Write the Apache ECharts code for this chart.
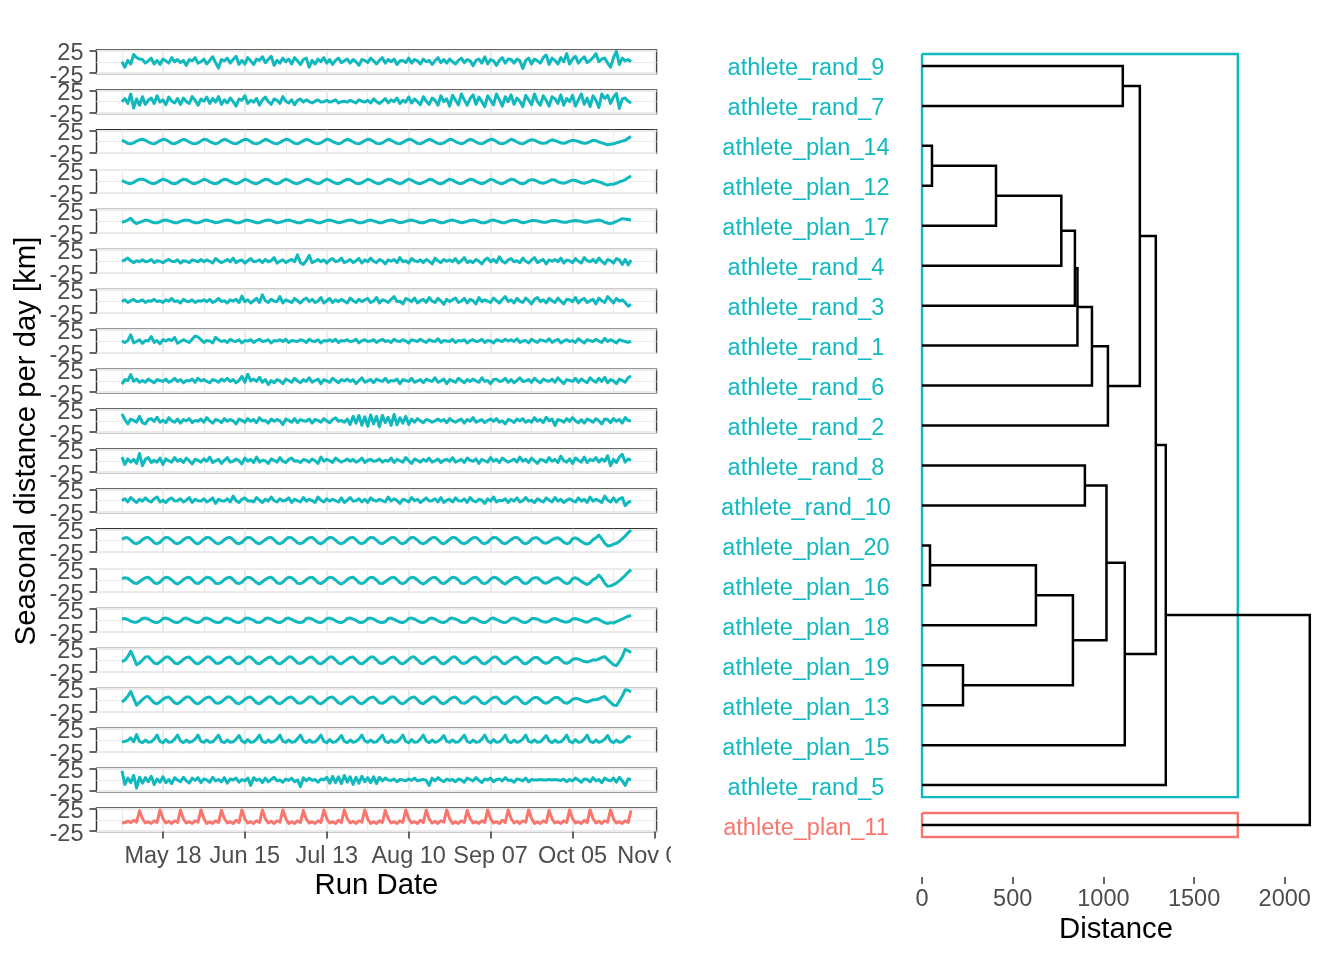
<!DOCTYPE html>
<html><head><meta charset="utf-8">
<script src="https://cdn.jsdelivr.net/npm/echarts@6/dist/echarts.min.js"></script>
<style>html,body{margin:0;padding:0;background:#fff}#c{width:1344px;height:960px}</style>
</head><body><div id="c"></div>
<script>
// ---------------- DATA ----------------
const athletes = ['athlete_rand_9','athlete_rand_7','athlete_plan_14','athlete_plan_12','athlete_plan_17',
  'athlete_rand_4','athlete_rand_3','athlete_rand_1','athlete_rand_6','athlete_rand_2','athlete_rand_8',
  'athlete_rand_10','athlete_plan_20','athlete_plan_16','athlete_plan_18','athlete_plan_19','athlete_plan_13',
  'athlete_plan_15','athlete_rand_5','athlete_plan_11'];
const clusterOf = [1,1,1,1,1,1,1,1,1,1,1,1,1,1,1,1,1,1,1,2];
// day 0 = 2019-05-04 ; one value per day until 2019-10-25 (day 174)
const dateTickDays = [14,42,70,98,126,154,182];
const dateTickLabels = ['May 18','Jun 15','Jul 13','Aug 10','Sep 07','Oct 05','Nov 02'];
const minorGridDays = [0,28,56,84,112,140,168];
const yTicks = [-25,25];
const yMinorGrid = [0];
const distTicks = [0,500,1000,1500,2000];

const rand_9 = [0,-12,3,-5,16,9,6, 5,-3,2,8,-5,3,-6, 6,2,-3,9,0,5,-2, 3,-8,5,2,9,-3,0, 6,-5,3,11,-2,-14,5,
 2,8,-3,5,12,-6,3, -5,9,2,-6,6,3,11, -2,5,12,-8,3,-3,8, 0,6,-5,9,2,-6,5, 8,-12,3,-5,6,0,9,
 -3,5,-6,3,8,-2,2, 6,-3,5,0,-8,5,3, -2,8,2,-5,3,9,-3, 5,0,6,-6,2,3,-2, 8,-3,5,2,-5,6,0,
 3,-6,2,9,-2,5,-3, 6,0,-5,3,8,-2,5, 2,-9,3,6,-3,11,-5, 5,2,-8,3,9,-3,6, 5,-3,6,2,-15,3,8,
 -5,6,2,-3,9,15,-6, 8,3,-5,9,0,18,-5, 6,12,-3,5,11,-2,3, 9,18,0,6,8,-3,-12, 9,23,-6,8,2,5,0];
const rand_7 = [0,7,-4,17,-14,6,-8, 11,-6,3,8,-4,13,-1, 4,-7,10,1,-3,7,-6, 8,0,-4,11,3,-8,6, 1,10,-4,7,-1,11,-6,
 4,-3,8,0,-10,6,3, 13,-4,3,-1,7,-8,4, 10,0,-6,6,3,-4,11, 1,-3,4,-7,3,6,-1, 4,0,-3,1,4,-1,0,
 3,-1,1,4,-3,0,1, -1,3,0,-3,4,1,-1, 3,-3,6,0,-4,1,7, -3,4,0,8,-4,3,-1, 10,-3,6,0,-7,11,1,
 -6,8,3,-8,13,0,6, -10,14,3,-7,17,4,-8, 7,15,-6,10,0,-11,13, 3,-7,17,4,-10,11,0, 15,-6,8,1,-11,14,4,
 -7,17,0,-8,13,3,-10, 11,6,-4,15,-8,7,0, 14,-10,4,17,-6,8,-11, 13,3,-13,17,7,14,-4, 10,18,-15,6,8,1,-3];
const plan_14 = [3,0,-4,-5,-3,1,4, 5,3,-1,-4,-5,-2,2, 5,4,0,-4,-5,-2,2, 5,3,-1,-4,-5,-3,1, 5,4,0,-3,-5,-3,2,
 5,3,-1,-4,-5,-2,2, 5,4,0,-4,-5,-3,1, 5,3,-1,-4,-5,-2,2, 5,4,0,-4,-5,-2,2, 5,3,-1,-4,-5,-3,1,
 5,4,0,-3,-5,-3,2, 5,3,-1,-4,-5,-2,2, 5,4,0,-4,-5,-3,1, 5,3,-1,-4,-5,-2,2, 5,4,0,-4,-5,-2,2,
 5,3,-1,-4,-5,-3,1, 5,4,0,-3,-5,-3,2, 5,3,-1,-4,-5,-2,2, 5,4,0,-4,-5,-3,1, 5,3,-1,-4,-5,-2,2,
 4,3,0,-3,-4,-3,1, 4,2,0,-3,-4,-2,1, 3,2,0,-2,-4,-3,0, 3,2,-1,-3,-5,-7,-6, -5,-3,-1,1,3,7,11];
const plan_12 = [2,-1,-4,-5,-2,2,5, 5,3,-1,-4,-5,-2,2, 5,3,0,-4,-5,-3,2, 5,4,0,-4,-5,-2,1, 5,3,-1,-4,-5,-3,2,
 5,4,0,-3,-5,-3,1, 5,3,-1,-4,-5,-2,2, 5,4,0,-4,-5,-3,2, 5,3,-1,-4,-5,-2,1, 5,4,0,-3,-5,-3,2,
 5,3,-1,-4,-5,-2,2, 5,4,0,-4,-5,-3,1, 5,3,-1,-4,-5,-2,2, 5,4,0,-3,-5,-3,2, 5,3,-1,-4,-5,-2,1,
 5,4,0,-4,-5,-3,2, 5,3,-1,-4,-5,-2,2, 5,4,0,-3,-5,-3,1, 5,3,-1,-4,-5,-2,2, 5,4,0,-4,-5,-3,2,
 4,3,0,-3,-4,-2,1, 4,3,-1,-3,-4,-2,1, 3,2,0,-3,-4,-2,0, 3,1,-1,-3,-6,-8,-6, -6,-4,-1,1,4,8,12];
const plan_17 = [-2,0,3,7,-1,-5,-2, 0,3,2,-1,-3,-3,-1, 2,3,1,-1,-3,-3,0, 2,3,2,-1,-3,-3,-1, 2,3,1,-1,-3,-2,0,
 2,3,2,-1,-3,-3,-1, 2,3,1,-1,-3,-3,0, 2,3,2,-1,-3,-2,0, 2,3,1,-1,-3,-3,-1, 2,3,2,-1,-3,-3,0,
 2,3,1,-1,-3,-2,0, 2,3,2,-1,-3,-3,-1, 2,3,1,-1,-3,-3,0, 2,3,2,-1,-3,-2,0, 2,3,1,-1,-3,-3,-1,
 2,3,2,-1,-3,-3,0, 2,3,1,-1,-3,-2,0, 2,3,2,-1,-3,-3,-1, 2,3,1,-1,-3,-3,0, 2,3,2,-1,-3,-2,0,
 2,2,1,-1,-2,-2,0, 2,2,1,-1,-2,-2,0, 1,2,1,0,-2,-2,0, 1,2,3,1,-2,-4,-5, -3,0,3,6,5,4,3];
const rand_4 = [0,3,7,1,-3,1,-1, 3,-1,0,4,-3,1,0, -3,1,4,0,-1,3,-4, 1,0,-3,3,1,-1,4, -1,3,0,-4,6,1,-3,
 0,4,-1,7,-3,1,3, -4,1,6,-1,0,3,-3, 4,-1,1,8,-4,0,3, -3,1,4,-1,14,-3,-7, 1,13,-3,0,4,-1,3,
 -4,3,6,-1,1,7,-3, 0,4,-3,1,6,-4,3, -1,7,0,-3,4,1,-6, 3,0,4,-3,8,-1,1, -4,6,1,-1,3,-3,4,
 0,-6,7,1,-3,4,0, 3,-1,6,-4,1,8,-3, 1,-3,4,0,-6,3,7, -1,4,-3,10,0,-4,3, 6,-1,1,-3,7,0,-4,
 3,8,-3,1,4,-6,3, 0,4,-1,7,-4,3,1, -3,6,0,-4,8,1,-1, 4,-3,7,0,-6,4,1, -4,6,3,-7,4,-8,3];
const rand_3 = [-1,3,-3,1,4,-1,0, 3,-3,1,0,4,-1,1, -3,3,0,6,-1,1,-4, 4,0,-1,3,-3,1,0, 3,-1,4,-3,0,6,-1,
 1,-4,3,0,4,-3,11, -1,3,-4,1,6,-3,14, 1,-3,4,0,-1,10,-4, 3,0,-3,6,1,-4,3, 7,-1,4,-3,0,8,-4,
 1,6,-3,3,-1,4,0, -4,7,1,-3,4,-1,3, 6,-3,0,8,-4,3,1, -3,4,10,-1,0,-6,6, 3,-1,7,-4,1,4,-3,
 8,0,-3,6,1,-7,4, -1,3,7,-3,0,6,-4, 4,1,-6,8,-1,3,0, -3,7,1,-4,4,10,-1, 3,-4,6,0,-3,7,1,
 -6,4,8,-1,3,-4,6, 1,-3,7,0,-6,4,3, -1,8,-4,3,6,-3,1, 4,-6,7,1,-3,10,3, -4,6,0,3,-3,-11,-7];
const rand_1 = [0,-3,1,14,-4,-1,3, -5,1,0,10,-3,1,-6, 3,0,4,1,8,-5,-1, 3,0,-3,4,11,9,3, -3,1,0,-4,8,3,-1,
 1,-3,4,0,-1,3,-4, 1,0,3,-3,1,4,-1, 0,3,-4,1,0,3,-1, 4,-3,1,0,-1,3,1, -3,4,0,-1,3,-4,1,
 0,3,-1,4,-3,1,0, 3,-1,0,4,-4,1,3, -1,0,3,-3,1,4,-1, 1,-3,4,0,-1,3,0, -4,3,1,-1,4,0,-3,
 3,0,-1,5,-3,1,0, -1,4,-3,1,0,3,-4, 1,3,-1,0,4,-3,1, 0,-4,3,1,-1,4,0, 3,-1,5,-3,0,1,-4,
 4,0,-3,3,1,-1,5, -3,1,4,-4,0,3,-1, 1,-3,5,0,-4,3,1, -1,4,0,-3,6,-1,3, 0,-4,3,1,-1,-3,0];
const rand_6 = [-7,3,1,14,-1,4,-3, 1,-3,4,0,-4,3,1, -1,4,-3,0,6,-1,3, -4,1,0,4,-3,6,0, 3,-1,-4,3,1,-3,4,
 0,6,-1,3,-4,1,10, -3,15,0,4,-1,8,-3, 3,-8,1,-4,3,0,-6, 4,1,-3,6,0,-4,3, -1,7,-3,1,4,-6,3,
 0,-3,6,1,-4,3,0, 4,-1,3,-6,1,7,-3, 0,3,-4,4,1,-1,6, -3,1,0,4,-6,3,1, -1,6,-3,0,3,-4,4,
 1,-1,7,-3,0,4,-6, 3,0,-3,6,1,-4,3, -1,4,0,-3,7,-1,1, -6,3,4,-1,0,6,-3, 3,-4,1,7,-1,0,3,
 -3,6,0,-4,4,1,-1, 4,-3,7,0,-6,3,1, -1,6,-3,4,0,-4,7, 1,-3,6,-1,8,-4,3, 0,-6,4,1,-3,7,11];
const rand_2 = [15,3,-7,4,1,-3,10, -4,-7,3,5,-1,8,-3, 1,-4,7,0,-3,4,-5, 3,0,5,-4,1,-1,4, -3,7,0,-5,3,1,-4,
 5,-1,3,0,-7,4,1, -3,5,-1,3,-4,7,0, 1,-5,4,-1,3,0,-8, 4,1,-3,5,-4,3,0, -1,4,-5,3,1,-3,5,
 0,-4,3,7,-1,1,-3, 4,-8,10,-5,12,-10,9, -12,13,-7,10,-13,12,-4, 8,-10,14,-9,7,-5,10, -8,4,-3,5,0,-4,3,
 1,-3,0,4,-1,3,-4, 5,0,-3,1,4,-5,3, -1,7,-3,0,3,-4,1, 4,-1,5,-3,0,-7,3, 1,-4,4,0,5,-3,1,
 -3,7,-1,3,-4,8,0, 4,-10,3,1,-3,5,-1, 7,0,-4,3,-5,4,1, -3,5,0,-7,4,3,-4, 5,-1,3,-5,7,1,0];
const rand_8 = [8,-8,4,-3,3,-6,16, -11,3,7,-4,1,-3,6, -8,4,0,-3,7,-1,3, -4,6,0,-7,3,1,-3, 4,-1,8,-4,0,3,-6,
 1,7,-3,-1,4,0,-7, 6,-1,3,-4,8,-3,1, 0,-6,4,1,-3,7,-1, -4,3,6,-1,0,-4,3, 1,-3,4,0,-6,8,-1,
 3,0,-4,6,1,-3,0, 4,-1,3,-3,0,6,-4, 1,3,-1,0,4,-3,1, -1,6,-4,3,0,-3,7, 0,-6,4,1,-3,3,-1,
 6,-3,0,4,-4,1,3, -1,7,-3,0,3,-4,6, 1,-1,4,-6,3,0,-3, 7,-1,3,-4,6,1,-3, 0,4,-3,8,-1,3,-4,
 6,0,-6,3,1,-3,7, -1,3,-4,10,0,-3,4, -6,6,1,-3,8,-4,3, 0,7,-3,4,-1,11,-11, 3,-4,8,14,-3,4,1];
const rand_10 = [0,4,-3,7,1,-4,3, -1,6,0,-3,4,8,-3, 1,-4,3,6,-1,0,4, -3,1,7,-4,3,0,-1, 4,-3,1,6,-6,3,0,
 -1,4,-3,10,0,-4,3, 6,-1,0,-3,7,1,-4, 3,-1,8,0,-3,4,-1, 1,6,-4,3,0,-3,7, -1,3,0,-4,8,1,-3,
 4,-1,3,0,-3,6,-4, 1,7,-1,0,4,-3,3, -4,6,1,-1,3,0,-3, 8,-1,4,0,-6,3,1, -3,7,0,3,-4,1,6,
 -1,0,4,-3,7,-4,1, 3,-3,6,0,-1,4,-4, 7,0,-3,3,1,-6,4, -1,8,-3,1,0,4,-4, 3,-1,6,-3,0,7,-1,
 1,-4,4,0,-3,6,1, -3,7,-1,3,-4,1,4, 0,-3,6,-1,3,-4,8, -1,3,0,-4,10,1,-3, 6,-3,4,7,-11,-4,-1];
const plan_20 = [3,6,6,1,-5,-7,-4, 2,6,7,2,-5,-7,-4, 3,7,6,1,-5,-7,-4, 2,6,7,2,-5,-7,-3, 3,7,6,1,-5,-7,-4,
 2,6,7,2,-5,-7,-4, 3,7,6,1,-5,-7,-3, 2,6,7,2,-5,-7,-4, 3,7,6,1,-5,-7,-4, 2,6,7,2,-5,-7,-3,
 3,7,6,1,-5,-7,-4, 2,6,7,2,-5,-7,-4, 3,7,6,1,-5,-7,-3, 2,6,7,2,-5,-7,-4, 3,7,6,1,-5,-7,-4,
 2,6,7,2,-5,-7,-3, 3,7,6,1,-5,-7,-4, 2,6,7,2,-5,-7,-4, 3,7,6,1,-5,-7,-3, 2,6,7,2,-5,-7,-4,
 3,6,6,1,-5,-6,-3, 2,5,6,2,-4,-7,-5, 4,6,3,-2,-6,-8,-5, 2,6,12,4,-6,-12,-11, -8,-6,-2,4,10,17,23];
const plan_16 = [4,6,5,0,-5,-7,-3, 2,6,7,2,-5,-7,-4, 3,7,6,1,-5,-8,-4, 2,6,7,2,-5,-7,-3, 3,7,6,1,-6,-7,-4,
 2,6,7,2,-5,-7,-4, 3,7,6,1,-5,-8,-3, 2,6,7,2,-5,-7,-4, 3,7,6,1,-6,-7,-4, 2,6,7,2,-5,-7,-3,
 3,7,6,1,-5,-8,-4, 2,6,7,2,-5,-7,-4, 3,7,6,1,-6,-7,-3, 2,6,7,2,-5,-7,-4, 3,7,6,1,-5,-8,-4,
 2,6,7,2,-5,-7,-3, 3,7,6,1,-6,-7,-4, 2,6,7,2,-5,-7,-4, 3,7,6,1,-5,-8,-3, 2,6,7,2,-5,-7,-4,
 3,6,6,1,-5,-6,-3, 2,5,6,2,-4,-7,-5, 4,6,3,-2,-6,-9,-5, 2,5,12,5,-6,-13,-12, -9,-6,-1,5,11,18,24];
const plan_18 = [3,4,2,-2,-4,-4,-1, 4,5,3,-1,-4,-5,-2, 4,5,3,-1,-4,-5,-2, 4,5,2,-1,-4,-5,-2, 4,5,3,-1,-4,-5,-3,
 4,5,3,-1,-4,-5,-2, 4,5,3,0,-4,-5,-2, 4,5,3,-1,-4,-5,-2, 4,5,2,-1,-4,-5,-3, 4,5,3,-1,-4,-5,-2,
 4,5,3,-1,-4,-5,-2, 4,5,3,0,-4,-5,-2, 4,5,3,-1,-4,-5,-3, 4,5,2,-1,-4,-5,-2, 4,5,3,-1,-4,-5,-2,
 4,5,3,-1,-4,-5,-2, 4,5,3,0,-4,-5,-3, 4,5,3,-1,-4,-5,-2, 4,5,2,-1,-4,-5,-2, 4,5,3,-1,-4,-5,-2,
 4,4,3,-1,-3,-4,-2, 3,4,2,-1,-3,-4,-2, 3,4,2,0,-3,-4,-1, 3,4,2,-2,-5,-7,-5, -6,-3,0,3,6,9,11];
const plan_19 = [-3,0,8,20,6,-10,-6, 0,7,8,1,-6,-8,-4, 2,7,7,1,-6,-8,-4, 2,6,7,1,-6,-8,-4, 2,7,7,1,-6,-7,-4,
 2,6,7,1,-6,-8,-4, 2,7,7,1,-6,-8,-3, 2,6,7,1,-6,-8,-4, 2,7,7,1,-6,-7,-4, 2,6,7,1,-6,-8,-4,
 2,7,7,1,-6,-8,-3, 2,6,7,1,-6,-8,-4, 2,7,7,1,-6,-7,-4, 2,6,7,1,-6,-8,-4, 2,7,7,1,-6,-8,-3,
 2,6,7,1,-6,-8,-4, 2,7,7,1,-6,-7,-4, 2,6,7,1,-6,-8,-4, 2,7,7,1,-6,-8,-3, 2,6,7,1,-6,-8,-4,
 2,6,6,1,-5,-7,-4, 2,6,6,1,-5,-7,-4, 2,4,3,0,-3,-4,-2, 1,0,3,6,8,2,-4, -10,-12,-3,8,24,21,17];
const plan_13 = [-4,1,9,19,4,-11,-5, 1,7,8,1,-6,-8,-4, 2,6,7,1,-6,-8,-4, 2,7,7,1,-6,-8,-4, 2,6,7,1,-6,-7,-4,
 2,7,7,1,-6,-8,-4, 2,6,7,1,-6,-8,-3, 2,7,7,1,-6,-8,-4, 2,6,7,1,-6,-7,-4, 2,7,7,1,-6,-8,-4,
 2,6,7,1,-6,-8,-3, 2,7,7,1,-6,-8,-4, 2,6,7,1,-6,-7,-4, 2,7,7,1,-6,-8,-4, 2,6,7,1,-6,-8,-3,
 2,7,7,1,-6,-8,-4, 2,6,7,1,-6,-7,-4, 2,7,7,1,-6,-8,-4, 2,6,7,1,-6,-8,-3, 2,7,7,1,-6,-8,-4,
 2,6,6,1,-5,-7,-4, 2,6,6,1,-5,-7,-4, 2,4,3,0,-3,-4,-2, 1,1,3,6,8,1,-5, -11,-12,-2,9,23,22,18];
const plan_15 = [-4,-3,-1,5,-4,12,-3, -6,0,-5,-4,2,11,-3, -6,1,-5,-4,2,11,-2, -6,0,-5,-3,2,11,-3, -5,0,-5,-4,3,11,-3,
 -6,0,-5,-4,2,10,-2, -6,1,-5,-4,2,11,-3, -6,0,-5,-3,2,11,-3, -5,0,-5,-4,3,11,-2, -6,0,-5,-4,2,11,-3,
 -6,1,-5,-4,2,10,-3, -6,0,-5,-3,2,11,-2, -5,0,-5,-4,3,11,-3, -6,0,-5,-4,2,11,-3, -6,1,-5,-4,2,11,-2,
 -6,0,-5,-3,2,10,-3, -5,0,-5,-4,3,11,-3, -6,0,-5,-4,2,11,-2, -6,1,-5,-4,2,11,-3, -6,0,-5,-3,2,11,-3,
 -5,0,-5,-4,3,10,-2, -6,0,-5,-4,2,11,-3, -6,1,-5,-4,2,11,-3, -6,0,-5,-3,2,10,-2, -6,0,-5,-4,2,8,6];
const rand_5 = [20,-10,4,-6,10,-18,6, -7,5,-4,8,-10,2,-5, 7,-6,1,-8,5,0,-4, 6,-2,-7,4,-1,5,-6, 2,0,-5,6,-2,1,-4,
 5,-7,2,0,4,-5,1, -2,4,-12,5,-1,2,-6, 4,-4,1,6,-2,0,-5, 2,-1,4,-4,0,-15,5, -2,4,-1,1,-5,2,0,
 6,-7,8,-6,7,-8,10, -5,7,-10,6,-7,8,-4, 5,-6,7,-8,6,-2,4, 0,-1,2,-4,1,0,-2, 2,-1,4,-2,0,1,-1,
 -12,4,-2,5,0,-4,2, -1,1,-4,2,0,-5,4, 1,-2,5,-1,-6,2,0, 4,-4,1,2,-2,5,-1, 0,-5,2,1,-2,4,-4,
 1,0,0,1,0,0,1, 0,1,0,-1,2,-4,1, -2,4,0,-5,2,1,-4, 5,-2,1,-6,4,0,-2, 4,-5,6,-2,-12,2,1];
const plan_11 = [-7,-6,-3,-6,-1,-5,20, 3,-7,-4,-8,-2,-6,22, 3,-7,-3,-8,-2,-6,22, 2,-7,-4,-8,-2,-5,22, 3,-8,-4,-8,-2,-6,21,
 3,-7,-4,-8,-1,-6,22, 2,-7,-4,-8,-2,-6,22, 3,-7,-3,-8,-2,-5,22, 3,-8,-4,-8,-2,-6,21, 2,-7,-4,-8,-2,-6,22,
 3,-7,-4,-8,-1,-6,22, 3,-7,-3,-8,-2,-5,22, 2,-8,-4,-8,-2,-6,21, 3,-7,-4,-8,-2,-6,22, 3,-7,-4,-8,-1,-6,22,
 2,-7,-3,-8,-2,-5,22, 3,-8,-4,-8,-2,-6,21, 3,-7,-4,-8,-2,-6,22, 2,-7,-4,-8,-1,-6,22, 3,-7,-3,-8,-2,-5,22,
 3,-8,-4,-8,-2,-6,21, 2,-7,-4,-8,-2,-6,22, 3,-7,-4,-8,-1,-6,22, 3,-7,-3,-8,-2,-5,22, 2,-7,-4,-8,-2,-6,21];

const seasonalSeries = [rand_9, rand_7, plan_14, plan_12, plan_17, rand_4, rand_3, rand_1, rand_6, rand_2,
  rand_8, rand_10, plan_20, plan_16, plan_18, plan_19, plan_13, plan_15, rand_5, plan_11];

// hierarchical clustering merges (negative = leaf position, positive = merge row), height
const merges = [
  [-13,-14,44],[-3,-4,55],[-16,-17,226],[2,-5,408],[1,-15,628],[4,-6,768],[5,3,832],
  [6,-7,843],[8,-8,857],[-11,-12,898],[9,-9,937],[10,7,1017],[11,-10,1025],[-1,-2,1107],
  [12,-18,1118],[14,13,1201],[16,15,1289],[17,-19,1344],[18,-20,2138]];
const cutHeight = 1741;

// ---------------- STYLE / LAYOUT ----------------
const FONT = '"Liberation Sans", Arial, Helvetica, sans-serif';
const COLORS = {1:'#10B9BE', 2:'#F8766D'};
const P_LEFT = 96.5, P_W = 560, P_TOP = 50, P_STEP = 39.9, P_H = 23.5;
const GRIDC = '#EBEBEB', TICKC = '#333333', LABC = '#4D4D4D';
const TXT = 23.5, TITLE = 29.3;
const Y_MIN = -26, Y_MAX = 26, X_MIN = -8.7, X_MAX = 182.7;

const grids = [], xAxes = [], yAxes = [], series = [];
athletes.forEach((name, i) => {
  const top = P_TOP + i * P_STEP;
  const last = i === athletes.length - 1;
  const gi = grids.length;
  grids.push({left:P_LEFT, top:top, width:P_W, height:P_H, show:true, borderColor:TICKC, borderWidth:1.5,
    backgroundColor:'rgba(0,0,0,0)', outerBoundsMode:'none', containLabel:false});
  const xMain = xAxes.length;
  xAxes.push({type:'value', gridIndex:gi, min:X_MIN, max:X_MAX, position:'bottom',
    axisLine:{show:false, onZero:false},
    axisTick:{show:last, customValues:dateTickDays, length:7, lineStyle:{color:TICKC, width:1.5}},
    axisLabel:{show:last, customValues:dateTickDays, margin:13, fontSize:TXT, color:LABC, fontFamily:FONT,
      hideOverlap:false,
      formatter:v => dateTickLabels[dateTickDays.indexOf(v)]},
    splitLine:{show:true, lineStyle:{color:GRIDC, width:2.2}}});
  xAxes.push({type:'value', gridIndex:gi, min:X_MIN, max:X_MAX, position:'bottom',
    axisLine:{show:false, onZero:false}, axisTick:{show:false, customValues:minorGridDays},
    axisLabel:{show:false, customValues:minorGridDays},
    splitLine:{show:true, lineStyle:{color:GRIDC, width:1.1}}});
  // one axis per y tick value so that no label gets dropped
  let yMain = -1;
  yTicks.forEach(t => {
    if (yMain < 0) yMain = yAxes.length;
    yAxes.push({type:'value', gridIndex:gi, min:Y_MIN, max:Y_MAX, position:'left',
      axisLine:{show:false, onZero:false},
      axisTick:{show:true, customValues:[t], length:7, lineStyle:{color:TICKC, width:1.5}},
      axisLabel:{show:true, customValues:[t], margin:13, fontSize:TXT, color:LABC, fontFamily:FONT,
        hideOverlap:false, lineHeight:14,
        formatter:v => '{t|' + v + '}',
        rich:{t:{fontSize:TXT, fontFamily:FONT, color:LABC, lineHeight:14, padding:[6,0,0,0]}}},
      splitLine:{show:true, lineStyle:{color:GRIDC, width:2.2}}});
  });
  yAxes.push({type:'value', gridIndex:gi, min:Y_MIN, max:Y_MAX, position:'left',
    axisLine:{show:false, onZero:false}, axisTick:{show:false, customValues:yMinorGrid},
    axisLabel:{show:false, customValues:yMinorGrid},
    splitLine:{show:true, lineStyle:{color:GRIDC, width:1.1}}});
  series.push({type:'line', name:name, xAxisIndex:xMain, yAxisIndex:yMain,
    data: seasonalSeries[i].map((v, d) => [d, v]),
    symbol:'none', showSymbol:false, silent:true, z:5,
    lineStyle:{width:3, color:COLORS[clusterOf[i]], join:'round'}});
});

// dendrogram grid
const DG = grids.length;
grids.push({left:902.6, top:14, width:426.6, height:863, show:false, outerBoundsMode:'none', containLabel:false});
const DX = xAxes.length;
xAxes.push({type:'value', gridIndex:DG, min:-107, max:2245, position:'bottom',
  axisLine:{show:false, onZero:false},
  axisTick:{show:true, customValues:distTicks, length:7, lineStyle:{color:TICKC, width:1.5}},
  axisLabel:{show:true, customValues:distTicks, margin:11, fontSize:TXT, color:LABC, fontFamily:FONT,
    hideOverlap:false, formatter:v => String(v)},
  splitLine:{show:false}});
const leafPos = athletes.map((_, k) => k + 1);
const rich = {};
Object.keys(COLORS).forEach(c => { rich['c' + c] = {color:COLORS[c], fontSize:TXT, fontFamily:FONT, padding:[6,0,0,0]}; });
const DY = yAxes.length;
yAxes.push({type:'value', gridIndex:DG, min:-0.3, max:21.3, inverse:true, position:'left',
  axisLine:{show:false, onZero:false}, axisTick:{show:false, customValues:leafPos},
  axisLabel:{show:true, customValues:leafPos, margin:96.6, align:'center', fontSize:TXT, fontFamily:FONT,
    hideOverlap:false, formatter:v => '{c' + clusterOf[v-1] + '|' + athletes[v-1] + '}', rich:rich},
  splitLine:{show:false}});

// cluster boxes
const BOX_PAD = 0.3;
const boxes = [];
Object.keys(COLORS).forEach(c => {
  const idx = leafPos.filter((p, k) => String(clusterOf[k]) === c);
  const y0 = Math.min(...idx) - BOX_PAD, y1 = Math.max(...idx) + BOX_PAD;
  boxes.push({coords:[[0,y0],[cutHeight,y0],[cutHeight,y1],[0,y1],[0,y0]], lineStyle:{color:COLORS[c]}});
});
series.push({type:'lines', coordinateSystem:'cartesian2d', xAxisIndex:DX, yAxisIndex:DY, polyline:true,
  silent:true, z:3, lineStyle:{width:2.4, opacity:1}, data:boxes});

// dendrogram segments
const nodes = [];
const nodeInfo = r => r < 0 ? {y:-r, h:0} : nodes[r-1];
const segs = [];
merges.forEach(([a, b, h]) => {
  const A = nodeInfo(a), B = nodeInfo(b);
  segs.push({coords:[[A.h, A.y],[h, A.y],[h, B.y],[B.h, B.y]]});
  nodes.push({y:(A.y + B.y) / 2, h:h});
});
series.push({type:'lines', coordinateSystem:'cartesian2d', xAxisIndex:DX, yAxisIndex:DY, polyline:true,
  silent:true, z:6, lineStyle:{width:2.5, color:'#000000', opacity:1}, data:segs});

const chart = echarts.init(document.getElementById('c'), null, {renderer:'canvas'});
chart.setOption({
  animation:false, backgroundColor:'#ffffff',
  grid:grids, xAxis:xAxes, yAxis:yAxes, series:series,
  graphic:[
    {type:'rect', x:671, y:838, shape:{width:45, height:36}, style:{fill:'#ffffff'}, z:100},
    {type:'text', x:27, y:441, rotation:Math.PI/2, z:101,
      style:{text:'Seasonal distance per day [km]', fontSize:TITLE, fontFamily:FONT, fill:'#000000', align:'center', verticalAlign:'middle'}},
    {type:'text', x:376.5, y:886, z:101,
      style:{text:'Run Date', fontSize:TITLE, fontFamily:FONT, fill:'#000000', align:'center', verticalAlign:'middle'}},
    {type:'text', x:1116, y:930, z:101,
      style:{text:'Distance', fontSize:TITLE, fontFamily:FONT, fill:'#000000', align:'center', verticalAlign:'middle'}}
  ]
});
</script>
</body></html>
